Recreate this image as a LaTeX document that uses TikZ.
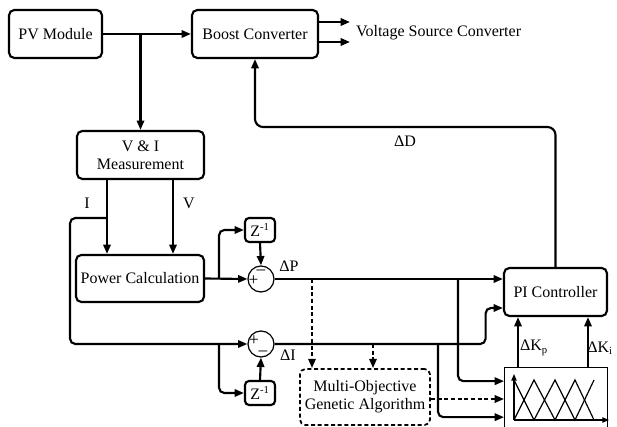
\documentclass[tikz,border=0pt]{standalone}
\usepackage{fontspec}
\setmainfont{Liberation Serif}
\usetikzlibrary{arrows.meta}

\begin{document}
\begin{tikzpicture}[x=0.75pt,y=-0.75pt,font=\fontsize{12}{13.5}\selectfont,
  line width=1.6pt,>={Triangle[length=7pt,width=5.5pt]},
  blk/.style={draw,rounded corners=4pt,align=center,inner sep=1pt,minimum height=36pt},
  sumnode/.style={draw,circle,line width=0.9pt,minimum size=19.5pt,inner sep=0pt},
  zbox/.style={draw,rounded corners=3pt,minimum width=22.5pt,minimum height=18pt,inner sep=1pt},
  sgn/.style={inner sep=0pt,font=\fontsize{13}{13}\selectfont},
  dsh/.style={dash pattern=on 3pt off 2pt}]
\useasboundingbox (0,0) rectangle (617,427);
\node[blk,minimum width=69.75pt] (pv) at (55.5,34) {PV Module};
\node[blk,minimum width=94.5pt] (boost) at (255,34) {Boost Converter};
\node[anchor=west,inner sep=0pt] (vsc) at (355,33) {Voltage Source Converter};
\node[blk,minimum width=95.25pt] (meas) at (140.5,155) {V \& I\\Measurement};
\node[blk,minimum width=96pt,minimum height=35.25pt] (pcalc) at (140,278.5) {Power Calculation};
\node[zbox] (z1) at (260,230) {Z\textsuperscript{-1}};
\node[sumnode] (sum1) at (261,279) {};
\node[sumnode] (sum2) at (261,344) {};
\node[zbox] (z2) at (260,393) {Z\textsuperscript{-1}};
\node[blk,minimum width=77.25pt] (pi) at (555.5,292) {PI Controller};
\node[blk,dsh,line width=1.3pt,minimum width=97.5pt,minimum height=42pt] (ga) at (365,397) {Multi-Objective\\Genetic Algorithm};
\node[draw,line width=0.9pt,minimum width=77pt,minimum height=49pt] (fuzzy) at (556,400.5) {};
\node[sgn] (s1m) at (261,272) {\textendash};
\node[sgn] (s1p) at (253.5,281) {+};
\node[sgn] (s2p) at (254,341) {+};
\node[sgn] (s2m) at (263,353) {\textendash};
\node (lI) at (87,203) {I};
\node (lV) at (189,203) {V};
\node (lP) at (289,266) {ΔP};
\node (lDI) at (288,355) {ΔI};
\node (lD) at (405,141) {ΔD};
\node (lKp) at (534,348) {ΔK\textsubscript{p}};
\node (lKi) at (600,348) {ΔK\textsubscript{i}};
\coordinate (vIn1) at (350,22);
\coordinate (vIn2) at (350,42);
\coordinate (iTap) at (107,218);
\coordinate (vTap) at (173,218);
\coordinate (pTap) at (219,279);
\coordinate (iTap2) at (219,344);
\coordinate (pTapG) at (312,279);
\coordinate (iTapG) at (373,344);
\coordinate (iTapF) at (438,344);
\coordinate (pTapF) at (458,279);
\coordinate (dTurn) at (405,127);
\coordinate (kp) at ([xshift=-28.5pt]fuzzy.north);
\coordinate (ki) at ([xshift=24pt]fuzzy.north);
\draw[->] (pv) -- (boost);
\draw[->] (meas.north |- pv.east) -- (meas.north);
\draw[->] (boost.east |- vIn1) -- (vIn1);
\draw[->] (boost.east |- vIn2) -- (vIn2);
\draw[->] (meas.south -| iTap) -- (pcalc.north -| iTap);
\draw[->] (meas.south -| vTap) -- (pcalc.north -| vTap);
\draw[->,rounded corners=4pt] (iTap) -- ++(-37,0) |- (sum2.west);
\draw[->] (pcalc.east) -- (sum1.west);
\draw[->,rounded corners=4pt] (pTap) |- (z1.west);
\draw[->] (z1.south) -- (sum1.north);
\draw[->] (sum1.east) -- (sum1.east -| pi.west);
\draw[->,rounded corners=4pt] (iTap2) |- (z2.west);
\draw[->] (z2.north) -- (sum2.south);
\draw[->,rounded corners=4pt] (sum2.east) -- ++(211,0) |- ([yshift=-12pt]pi.west);
\draw[->,rounded corners=4pt] (pTapF) |- ([yshift=14.5pt]fuzzy.west);
\draw[->,rounded corners=4pt] (iTapF) |- ([yshift=-12.5pt]fuzzy.west);
\draw[->,dsh] (pTapG) -- (ga.north -| pTapG);
\draw[->,dsh] (iTapG) -- (ga.north -| iTapG);
\draw[->,dsh] (ga.east |- 0,399) -- (fuzzy.west |- 0,399);
\draw[->] (kp) -- (kp |- pi.south);
\draw[->] (ki) -- (ki |- pi.south);
\draw[->,rounded corners=6pt] (pi.north) |- (dTurn) -| (boost.south);
\draw[line width=0.9pt,-{Triangle[length=5pt,width=4pt]}] (514,420) -- (514,374);
\draw[line width=0.9pt,-{Triangle[length=5pt,width=4pt]}] (514,420) -- (609,420);
\draw[line width=0.9pt] (514,420) -- (534,380) -- (555,420) -- (575,380) -- (594,420);
\draw[line width=0.9pt] (514,380) -- (534,420) -- (555,380) -- (575,420) -- (594,380);
\end{tikzpicture}
\end{document}
